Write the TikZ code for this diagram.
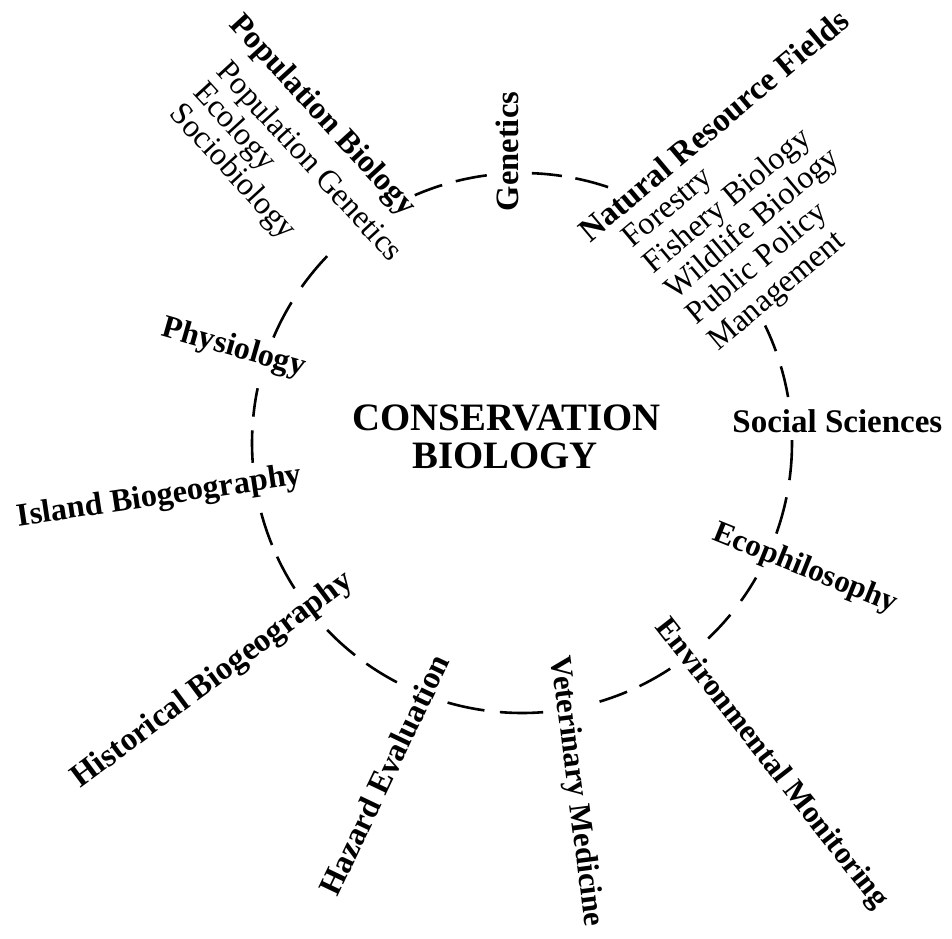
\documentclass[tikz,border=0pt]{standalone}
\usepackage{fontspec}
\setmainfont{Liberation Serif}
\begin{document}
\begin{tikzpicture}[x=0.5pt,y=0.5pt,
  bl/.style={inner sep=0pt, anchor=base west, font=\fontsize{#1}{#1}\selectfont\bfseries},
  bl/.default=16,
  rg/.style={inner sep=0pt, anchor=base west, font=\fontsize{#1}{#1}\selectfont},
  rg/.default=16,
  cdash/.style={line width=1.3pt, line cap=butt}]
\fill[white] (0,0) rectangle (952,-938);
\useasboundingbox (0,0) rectangle (952,-938);
\coordinate (C) at (522,-443);
% dashed circle, one dash at a time, with gaps where labels cross
\foreach \a/\b in {107.2/113.4, 97.5/104.2, 81.5/87.9, 71.4/78.6,
  19.9/25.8, 9.8/16.5, -7.9/0.6, -19.6/-11.6, -35.8/-29.9, -46.4/-39.5,
  -64.2/-56.7, -73.3/-67.1, -94.7/-85.5, -106/-98, -125.2/-117.6,
  -136.2/-128.2, -155.1/-147.4, -165/-157.8, 177.3/184.2, 168.3/174.4,
  148.6/157, 136.2/144.7}
  \draw[cdash] (C) ++(\a:270) arc[start angle=\a, end angle=\b, radius=270];
% centre
\node[bl=19.4, anchor=base] (t1) at (506.5,-430) {CONSERVATION};
\node[bl=19.4, anchor=base] (t2) at (505,-468) {BIOLOGY};
% population block
\node[bl, rotate=-47.5] (popb) at (228,-25) {Population Biology};
\node[rg, rotate=-47.5] (popg) at (215,-72) {Population Genetics};
\node[rg, rotate=-47.5] (ecol) at (191.8,-93.3) {Ecology};
\node[rg, rotate=-47.5] (socio) at (168.6,-114.6) {Sociobiology};
% genetics
\node[bl=16.3, rotate=90] (gen) at (518,-211.7) {Genetics};
% natural resource block
\node[bl=16.5, rotate=40] (nat) at (590,-243.5) {Natural Resource Fields};
\node[rg, rotate=40] (forest) at (632,-249) {Forestry};
\node[rg, rotate=40] (fish) at (653.5,-274.7) {Fishery Biology};
\node[rg, rotate=40] (wild) at (675,-300.4) {Wildlife Biology};
\node[rg, rotate=40] (pub) at (696.5,-326.1) {Public Policy};
\node[rg, rotate=40] (mgmt) at (718,-351.8) {Management};
% others
\node[bl=16.5] (soc) at (732,-432) {Social Sciences};
\node[bl=15.6, rotate=-22] (eco) at (711.2,-539.2) {Ecophilosophy};
\node[bl=15.5, rotate=-52] (env) at (654.7,-626.9) {Environmental Monitoring};
\node[bl=15.5, rotate=-82.7] (vet) at (550.9,-657.2) {Veterinary Medicine};
\node[bl=16.1, rotate=64.5] (haz) at (337.5,-898.2) {Hazard Evaluation};
\node[bl=16.4, rotate=36.7] (hist) at (80,-789) {Historical Biogeography};
\node[bl=16.2, rotate=8.5] (isl) at (18.5,-526.4) {Island Biogeography};
\node[bl, rotate=-16] (phys) at (160.5,-335.5) {Physiology};
\end{tikzpicture}
\end{document}
